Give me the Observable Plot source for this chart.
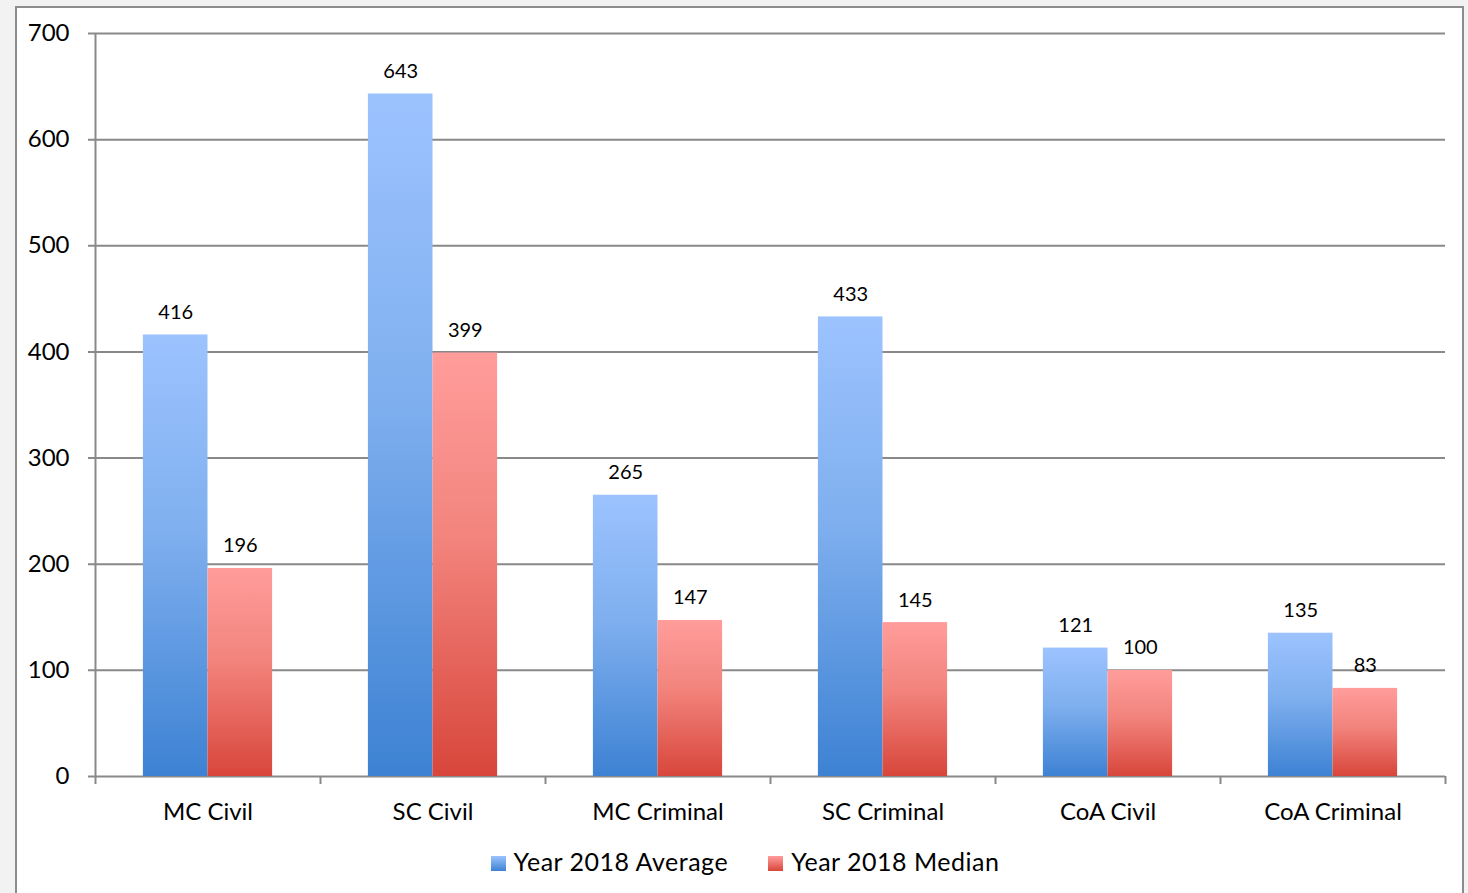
<!DOCTYPE html>
<html>
<head>
<meta charset="utf-8">
<script src="https://cdn.jsdelivr.net/npm/d3@7"></script>
<script src="https://cdn.jsdelivr.net/npm/@observablehq/plot@0.6"></script>
<style>
  html, body { margin: 0; padding: 0; background: #f2f2f2; width: 1468px; height: 893px; overflow: hidden; }
  #box { position: absolute; left: 15px; top: 6px; width: 1449px; height: 920px; background: #fff; border: 2px solid #8c8c8c; box-sizing: border-box; }
  #chart { position: absolute; left: 0; top: 0; }
  #legend { position: absolute; left: 0; top: 846px; width: 1490px; display: flex; justify-content: center; gap: 40px; font-family: Lato, sans-serif; font-size: 25px; letter-spacing: 0.5px; color: #000; }
  #legend .item { display: flex; align-items: center; }
  #legend .sw { width: 15px; height: 15px; margin-right: 8px; margin-top: 4px; }
</style>
</head>
<body>
<div id="box"></div>
<div id="chart"></div>
<div id="legend"></div>
<script>
const categories = ["MC Civil", "SC Civil", "MC Criminal", "SC Criminal", "CoA Civil", "CoA Criminal"];
const averageValues = [416, 643, 265, 433, 121, 135];
const medianValues = [196, 399, 147, 145, 100, 83];
const seriesNames = ["Year 2018 Average", "Year 2018 Median"];
const yTicks = [0, 100, 200, 300, 400, 500, 600, 700];

const avgData = categories.map((c, i) => ({category: c, value: averageValues[i]}));
const medData = categories.map((c, i) => ({category: c, value: medianValues[i]}));

const W = 1468, H = 830;
const mL = 95, mR = 23, mT = 33, mB = 54;
const band = (W - mL - mR) / categories.length;
const barW = 64.6;
const inset = (band - barW) / 2;
const gridColor = "#898989";

const defs = () => {
  const ns = "http://www.w3.org/2000/svg";
  const d = document.createElementNS(ns, "defs");
  d.innerHTML = `
    <linearGradient id="gBlue" x1="0" y1="0" x2="0" y2="1">
      <stop offset="0" stop-color="#9cc3fe"/>
      <stop offset="0.45" stop-color="#7fafef"/>
      <stop offset="1" stop-color="#3d82d3"/>
    </linearGradient>
    <linearGradient id="gRed" x1="0" y1="0" x2="0" y2="1">
      <stop offset="0" stop-color="#ff9d9b"/>
      <stop offset="0.45" stop-color="#f2837c"/>
      <stop offset="1" stop-color="#d8463b"/>
    </linearGradient>
    <filter id="sh" x="-10%" y="-5%" width="125%" height="110%">
      <feDropShadow dx="1.5" dy="0" stdDeviation="1.5" flood-color="#000" flood-opacity="0.18"/>
    </filter>`;
  return d;
};

const chart = Plot.plot({
  width: W, height: H,
  marginLeft: mL, marginRight: mR, marginTop: mT, marginBottom: mB,
  style: {background: "transparent", fontFamily: "Lato, sans-serif", overflow: "visible"},
  x: {domain: categories, padding: 0, label: null},
  y: {domain: [0, 700], label: null},
  marks: [
    defs,
    Plot.ruleY(yTicks, {y: d => d, stroke: gridColor, strokeWidth: 2, insetLeft: -7}),
    Plot.ruleX([0], {x: () => categories[0], dx: -band / 2, stroke: gridColor, strokeWidth: 2}),
    Plot.ruleX(categories, {x: d => d, dx: -band / 2, stroke: gridColor, strokeWidth: 2, insetTop: H - mT - mB, insetBottom: -8}),
    Plot.ruleX([categories[categories.length - 1]], {x: d => d, dx: band / 2, stroke: gridColor, strokeWidth: 2, insetTop: H - mT - mB, insetBottom: -8}),
    Plot.barY(avgData, {x: "category", y: "value", fill: "url(#gBlue)", insetLeft: inset, insetRight: inset, dx: -barW / 2}),
    Plot.barY(medData, {x: "category", y: "value", fill: "url(#gRed)", insetLeft: inset, insetRight: inset, dx: barW / 2}),
    Plot.text(avgData, {x: "category", y: "value", text: d => String(d.value), dx: -barW / 2, dy: -16, lineAnchor: "bottom", fontSize: 20, fill: "#000"}),
    Plot.text(medData, {x: "category", y: "value", text: d => String(d.value), dx: barW / 2, dy: -16, lineAnchor: "bottom", fontSize: 20, fill: "#000"}),
    Plot.axisY({ticks: yTicks, tickSize: 0, tickPadding: 26, fontSize: 24, fill: "#000", label: null}),
    Plot.axisX({tickSize: 0, tickPadding: 26, fontSize: 24, fill: "#000", label: null, style: {letterSpacing: "0.4px"}})
  ]
});
chart.querySelectorAll("rect").forEach(r => { if (r.getAttribute("fill") && r.getAttribute("fill").startsWith("url")) r.setAttribute("filter", "url(#sh)"); });
document.getElementById("chart").appendChild(chart);

const legend = document.getElementById("legend");
const grads = ["linear-gradient(#9cc3fe, #3d82d3)", "linear-gradient(#ff9d9b, #d8463b)"];
seriesNames.forEach((s, i) => {
  const it = document.createElement("div");
  it.className = "item";
  it.innerHTML = `<div class="sw" style="background:${grads[i]}"></div><span>${s}</span>`;
  legend.appendChild(it);
});
</script>
</body>
</html>
